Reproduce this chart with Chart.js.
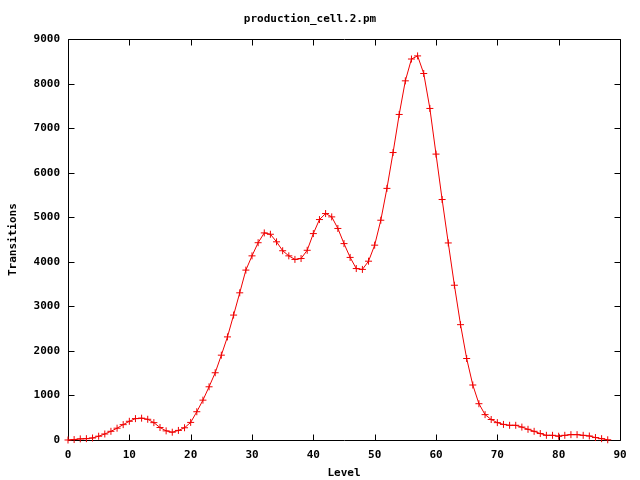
<!DOCTYPE html>
<html>
<head>
<meta charset="utf-8">
<script src="https://cdn.jsdelivr.net/npm/chart.js@4"></script>
<style>
  html, body { margin: 0; padding: 0; background: #fff; }
  #wrap { width: 640px; height: 480px; }
</style>
</head>
<body>
<div id="wrap"><canvas id="chart" width="640" height="480"></canvas></div>
<script>
// Level (x) and number of transitions (y)
const levels = [
    0, 1, 2, 3, 4, 5, 6, 7, 8, 9,
    10, 11, 12, 13, 14, 15, 16, 17, 18, 19,
    20, 21, 22, 23, 24, 25, 26, 27, 28, 29,
    30, 31, 32, 33, 34, 35, 36, 37, 38, 39,
    40, 41, 42, 43, 44, 45, 46, 47, 48, 49,
    50, 51, 52, 53, 54, 55, 56, 57, 58, 59,
    60, 61, 62, 63, 64, 65, 66, 67, 68, 69,
    70, 71, 72, 73, 74, 75, 76, 77, 78, 79,
    80, 81, 82, 83, 84, 85, 86, 87, 88
];
const transitions = [
    0, 10, 25, 30, 45, 85, 135, 195, 265, 345,
    420, 480, 490, 465, 390, 280, 205, 175, 215, 275,
    395, 635, 895, 1195, 1510, 1905, 2315, 2805, 3305, 3815,
    4135, 4430, 4650, 4620, 4450, 4250, 4135, 4055, 4075, 4260,
    4635, 4950, 5085, 5010, 4750, 4410, 4100, 3850, 3830, 4015,
    4375, 4935, 5650, 6455, 7310, 8065, 8555, 8625, 8230, 7445,
    6420, 5400, 4425, 3475, 2590, 1830, 1235, 815, 570, 460,
    390, 350, 330, 330, 290, 240, 195, 145, 105, 105,
    85, 105, 120, 120, 105, 90, 55, 30, 5
];
const xTicks = [0, 10, 20, 30, 40, 50, 60, 70, 80, 90];
const yTicks = [0, 1000, 2000, 3000, 4000, 5000, 6000, 7000, 8000, 9000];

const monoBold = { family: '"DejaVu Sans Mono", monospace', size: 11, weight: 'bold' };

// gnuplot-style frame: full border plus inward ticks mirrored on all sides
const framePlugin = {
    id: 'frame',
    beforeDatasetsDraw(chart) {
        const ctx = chart.ctx;
        const a = chart.chartArea;
        const xs = chart.scales.x, ys = chart.scales.y;
        const L = Math.round(a.left) + 0.5, R = Math.round(a.right) + 0.5;
        const T = Math.round(a.top) + 0.5, B = Math.round(a.bottom) + 0.5;
        const tl = 6;
        ctx.save();
        ctx.strokeStyle = '#000';
        ctx.lineWidth = 1;
        ctx.beginPath();
        ctx.rect(L, T, R - L, B - T);
        xTicks.forEach(v => {
            const px = Math.round(xs.getPixelForValue(v)) + 0.5;
            ctx.moveTo(px, B); ctx.lineTo(px, B - tl);
            ctx.moveTo(px, T); ctx.lineTo(px, T + tl);
        });
        yTicks.forEach(v => {
            const py = Math.round(ys.getPixelForValue(v)) + 0.5;
            ctx.moveTo(L, py); ctx.lineTo(L + tl, py);
            ctx.moveTo(R, py); ctx.lineTo(R - tl, py);
        });
        ctx.stroke();
        ctx.restore();
    }
};

new Chart(document.getElementById('chart'), {
    type: 'line',
    data: {
        datasets: [{
            label: 'production_cell.2.pm',
            data: levels.map((l, i) => ({ x: l, y: transitions[i] })),
            borderColor: '#f00000',
            borderWidth: 1,
            pointStyle: 'cross',
            pointRadius: 3.5,
            pointBorderWidth: 1,
            pointBorderColor: '#f00000',
            pointBackgroundColor: '#f00000',
            tension: 0,
            fill: false,
            clip: false
        }]
    },
    options: {
        responsive: false,
        animation: false,
        layout: { padding: { left: 0, right: 20, top: 0, bottom: 0 } },
        plugins: {
            legend: { display: false },
            tooltip: { enabled: false },
            title: {
                display: true,
                text: 'production_cell.2.pm',
                color: '#000',
                font: monoBold,
                padding: { top: 13, bottom: 13 }
            }
        },
        scales: {
            x: {
                type: 'linear',
                min: 0,
                max: 90,
                afterFit(scale) { scale.height = 40; },
                afterBuildTicks(scale) { scale.ticks = xTicks.map(v => ({ value: v })); },
                grid: { display: false, drawTicks: false },
                border: { display: false },
                ticks: { color: '#000', font: monoBold, padding: 9, maxRotation: 0,
                         callback: v => String(v) },
                title: {
                    display: true,
                    text: 'Level',
                    color: '#000',
                    font: monoBold,
                    padding: { top: 0, bottom: 0 }
                }
            },
            y: {
                type: 'linear',
                min: 0,
                max: 9000,
                afterFit(scale) { scale.width = 68; },
                afterBuildTicks(scale) { scale.ticks = yTicks.map(v => ({ value: v })); },
                grid: { display: false, drawTicks: false },
                border: { display: false },
                ticks: { color: '#000', font: monoBold, padding: 8,
                         callback: v => String(v) },
                title: {
                    display: true,
                    text: 'Transitions',
                    color: '#000',
                    font: monoBold,
                    padding: { top: 7, bottom: 0 }
                }
            }
        }
    },
    plugins: [framePlugin]
});
</script>
</body>
</html>
